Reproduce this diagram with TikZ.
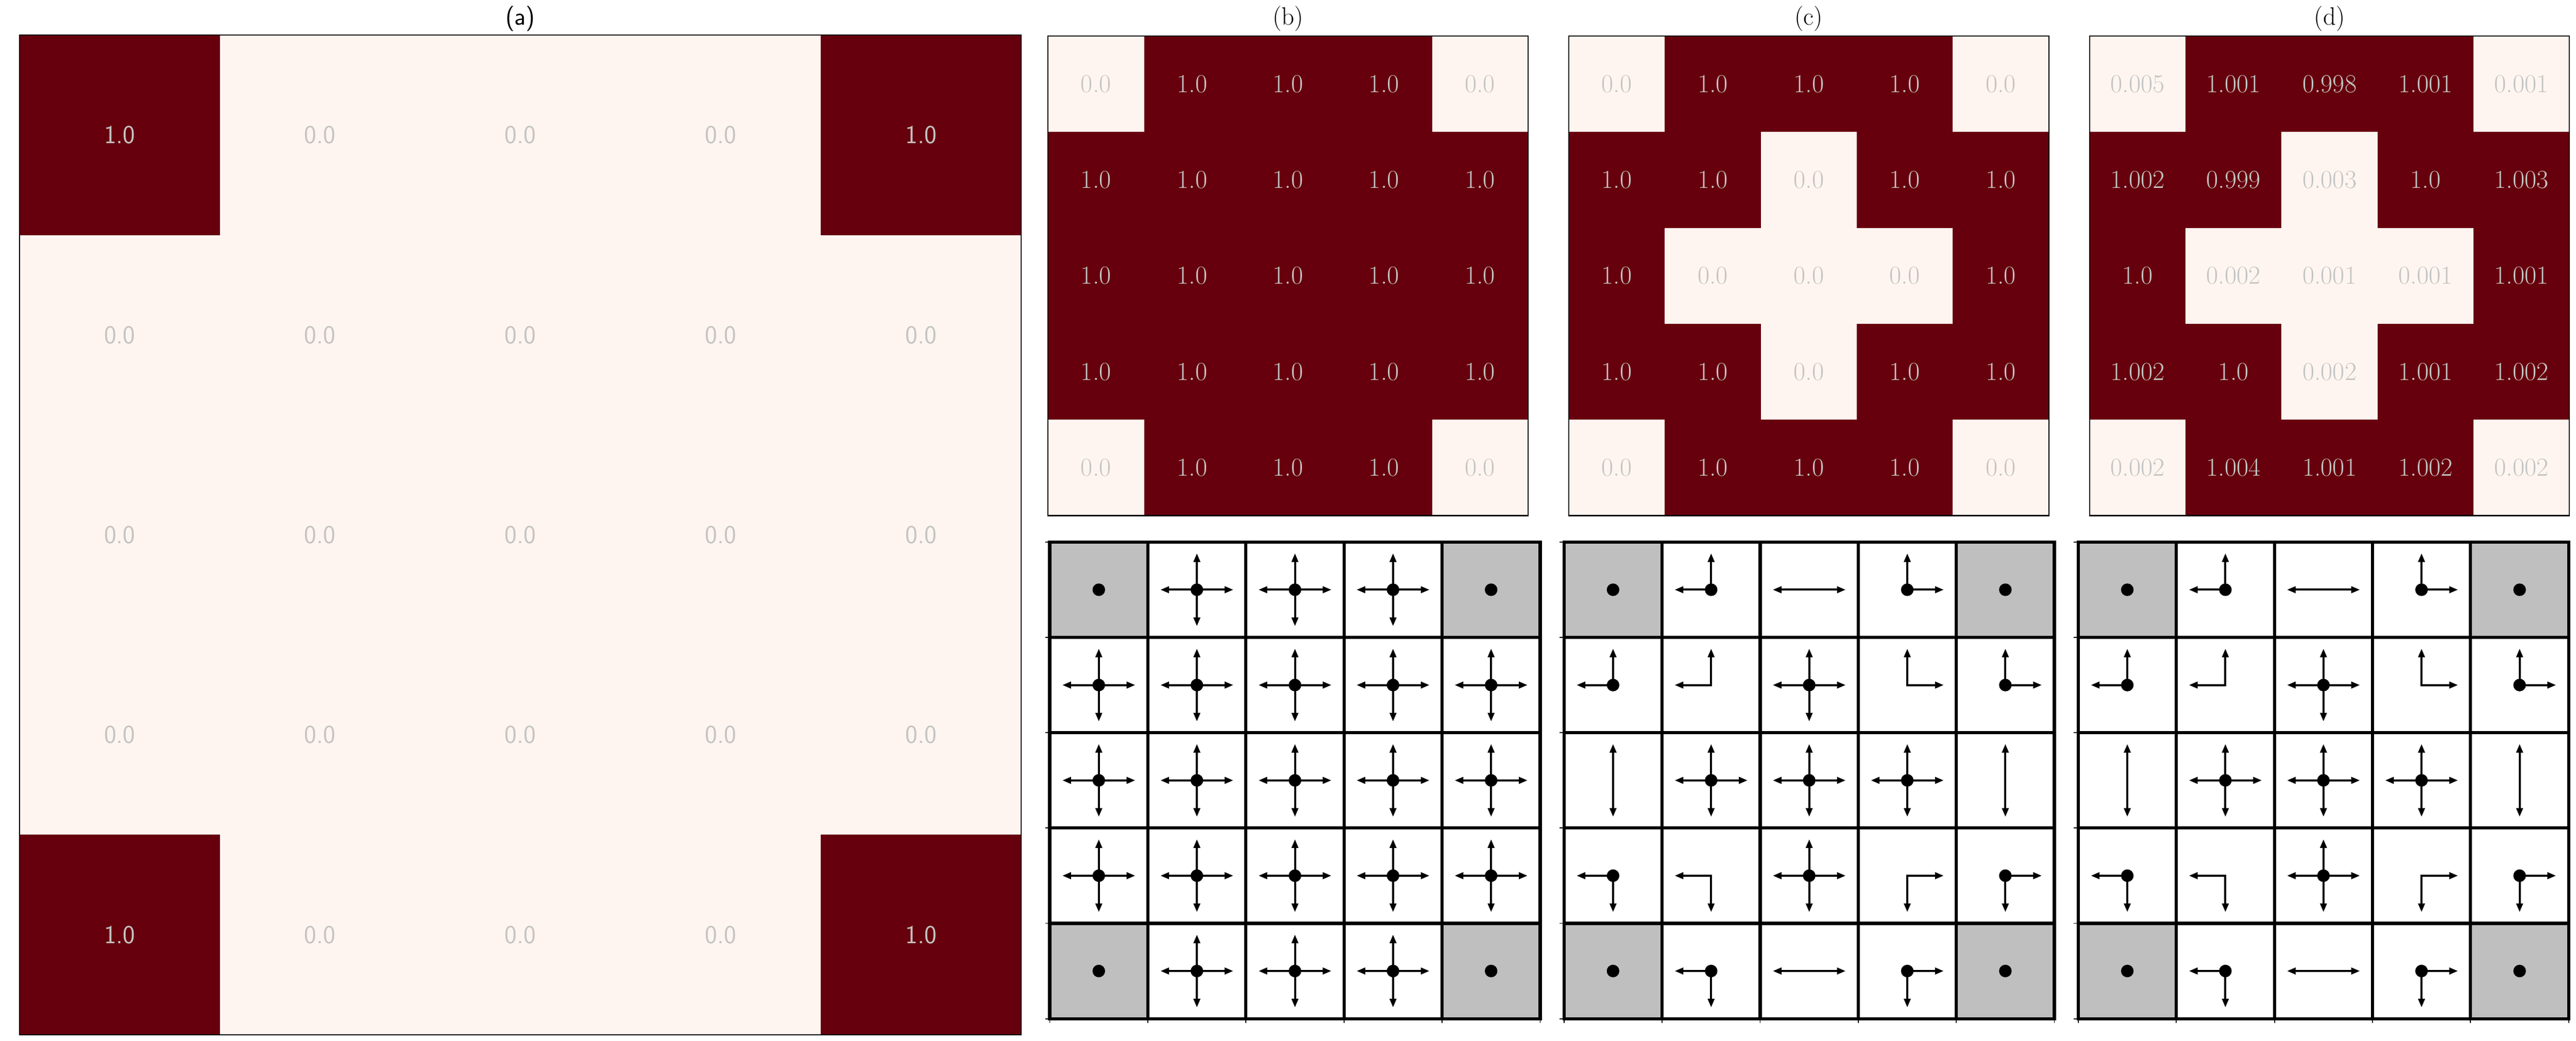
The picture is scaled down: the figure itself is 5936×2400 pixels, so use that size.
\documentclass[tikz,border=0pt]{standalone}
\usepackage{fontspec}
\usetikzlibrary{arrows.meta}
\definecolor{hi}{HTML}{67000D}
\definecolor{lo}{HTML}{FFF5F0}
\definecolor{valgray}{HTML}{C4C4C4}
\definecolor{cellgray}{HTML}{BFBFBF}
\tikzset{
  val/.style={font=\fontsize{17}{20}\selectfont, text=valgray, inner sep=0pt},
  ttl/.style={font=\fontsize{16.5}{19}\selectfont, inner sep=0pt},
  spine/.style={draw=black, line width=0.7pt},
  gline/.style={line width=2.1pt, line cap=rect},
  tickmark/.style={line width=0.6pt},
  arr/.style={line width=1.35pt, line cap=rect, -{Triangle[length=0.2cm,width=0.15cm]}},
}
% heat-map panel: #1 x0, #2 name, #3 rows
\newcommand\heatpanel[3]{%
  \foreach \row [count=\r from 0] in {#3} {
    \foreach \v [count=\c from 0] in \row {
      \pgfmathtruncatemacro\isdark{\v>0.5}
      \ifnum\isdark=1 \def\cfill{hi}\else\def\cfill{lo}\fi
      \fill[\cfill] ({#1+\c*221.2},{83+\r*221.2}) rectangle ++(221.2,221.2);
      \node[val] (#2-\r-\c) at ({#1+(\c+0.5)*221.2},{83+(\r+0.5)*221.2}) {\v};
    }
  }
  \draw[spine] (#1,83) rectangle ++(1106,1106);
}
% flow grid: #1 x0, #2 name, #3 cells dot/L/R/U/D
\newcommand\flowgrid[3]{%
  \begin{scope}[shift={(#1,1250)}]
    \foreach \d/\L/\R/\U/\D [count=\k from 0] in {#3} {
      \pgfmathtruncatemacro\rr{floor(\k/5)}
      \pgfmathtruncatemacro\cc{mod(\k,5)}
      \coordinate (#2-\rr-\cc) at ({(\cc+0.5)*226},{(\rr+0.5)*219.8});
      \ifnum\d=2 \fill[cellgray] ({\cc*226},{\rr*219.8}) rectangle ++(226,219.8); \fi
    }
    \foreach \i in {0,...,5} {
      \draw[gline] ({\i*226},0) -- ({\i*226},1099);
      \draw[gline] (0,{\i*219.8}) -- (1130,{\i*219.8});
      \draw[tickmark] (0,{\i*219.8}) -- (-10,{\i*219.8});
      \draw[tickmark] ({\i*226},1099) -- ({\i*226},1109);
    }
    \foreach \d/\L/\R/\U/\D [count=\k from 0] in {#3} {
      \pgfmathtruncatemacro\rr{floor(\k/5)}
      \pgfmathtruncatemacro\cc{mod(\k,5)}
      \ifnum\L=1 \draw[arr] (#2-\rr-\cc) -- ++(-84,0); \fi
      \ifnum\R=1 \draw[arr] (#2-\rr-\cc) -- ++(84,0); \fi
      \ifnum\U=1 \draw[arr] (#2-\rr-\cc) -- ++(0,-84); \fi
      \ifnum\D=1 \draw[arr] (#2-\rr-\cc) -- ++(0,84); \fi
      \ifnum\d>0 \fill[black] (#2-\rr-\cc) circle[radius=14.5]; \fi
    }
  \end{scope}
}
\begin{document}
\begin{tikzpicture}[x=0.01cm,y=-0.01cm]
\useasboundingbox (0,0) rectangle (5936,2400);
\fill[white] (0,0) rectangle (5936,2400);

% titles
\node[ttl,font=\fontsize{16.5}{19}\selectfont\sffamily] (ta) at (1199,43) {(a)};
\node[ttl] (tb) at (2968,43) {(b)};
\node[ttl] (tc) at (4168,43) {(c)};
\node[ttl] (td) at (5368,43) {(d)};

% panel (a)
\foreach \row [count=\r from 0] in {{1.0,0.0,0.0,0.0,1.0},{0.0,0.0,0.0,0.0,0.0},{0.0,0.0,0.0,0.0,0.0},{0.0,0.0,0.0,0.0,0.0},{1.0,0.0,0.0,0.0,1.0}} {
  \foreach \v [count=\c from 0] in \row {
    \pgfmathtruncatemacro\isdark{\v>0.5}
    \ifnum\isdark=1 \def\cfill{hi}\else\def\cfill{lo}\fi
    \fill[\cfill] ({45+\c*461.6},{81+\r*461}) rectangle ++(461.6,461);
    \node[val,font=\fontsize{17}{20}\selectfont\sffamily] (a-\r-\c) at ({45+(\c+0.5)*461.6},{81+(\r+0.5)*461}) {\v};
  }
}
\draw[spine] (45,81) rectangle (2353,2386);

% panels (b), (c), (d) top
\heatpanel{2415}{b}{{0.0,1.0,1.0,1.0,0.0},{1.0,1.0,1.0,1.0,1.0},{1.0,1.0,1.0,1.0,1.0},{1.0,1.0,1.0,1.0,1.0},{0.0,1.0,1.0,1.0,0.0}}
\heatpanel{3615}{c}{{0.0,1.0,1.0,1.0,0.0},{1.0,1.0,0.0,1.0,1.0},{1.0,0.0,0.0,0.0,1.0},{1.0,1.0,0.0,1.0,1.0},{0.0,1.0,1.0,1.0,0.0}}
\heatpanel{4815}{d}{{0.005,1.001,0.998,1.001,0.001},{1.002,0.999,0.003,1.0,1.003},{1.0,0.002,0.001,0.001,1.001},{1.002,1.0,0.002,1.001,1.002},{0.002,1.004,1.001,1.002,0.002}}

% flow grids
\flowgrid{2419}{gb}{2/0/0/0/0, 1/1/1/1/1, 1/1/1/1/1, 1/1/1/1/1, 2/0/0/0/0,
  1/1/1/1/1, 1/1/1/1/1, 1/1/1/1/1, 1/1/1/1/1, 1/1/1/1/1,
  1/1/1/1/1, 1/1/1/1/1, 1/1/1/1/1, 1/1/1/1/1, 1/1/1/1/1,
  1/1/1/1/1, 1/1/1/1/1, 1/1/1/1/1, 1/1/1/1/1, 1/1/1/1/1,
  2/0/0/0/0, 1/1/1/1/1, 1/1/1/1/1, 1/1/1/1/1, 2/0/0/0/0}
\flowgrid{3604}{gc}{2/0/0/0/0, 1/1/0/1/0, 0/1/1/0/0, 1/0/1/1/0, 2/0/0/0/0,
  1/1/0/1/0, 0/1/0/1/0, 1/1/1/1/1, 0/0/1/1/0, 1/0/1/1/0,
  0/0/0/1/1, 1/1/1/1/1, 1/1/1/1/1, 1/1/1/1/1, 0/0/0/1/1,
  1/1/0/0/1, 0/1/0/0/1, 1/1/1/1/1, 0/0/1/0/1, 1/0/1/0/1,
  2/0/0/0/0, 1/1/0/0/1, 0/1/1/0/0, 1/0/1/0/1, 2/0/0/0/0}
\flowgrid{4789}{gd}{2/0/0/0/0, 1/1/0/1/0, 0/1/1/0/0, 1/0/1/1/0, 2/0/0/0/0,
  1/1/0/1/0, 0/1/0/1/0, 1/1/1/1/1, 0/0/1/1/0, 1/0/1/1/0,
  0/0/0/1/1, 1/1/1/1/1, 1/1/1/1/1, 1/1/1/1/1, 0/0/0/1/1,
  1/1/0/0/1, 0/1/0/0/1, 1/1/1/1/1, 0/0/1/0/1, 1/0/1/0/1,
  2/0/0/0/0, 1/1/0/0/1, 0/1/1/0/0, 1/0/1/0/1, 2/0/0/0/0}
\end{tikzpicture}
\end{document}
